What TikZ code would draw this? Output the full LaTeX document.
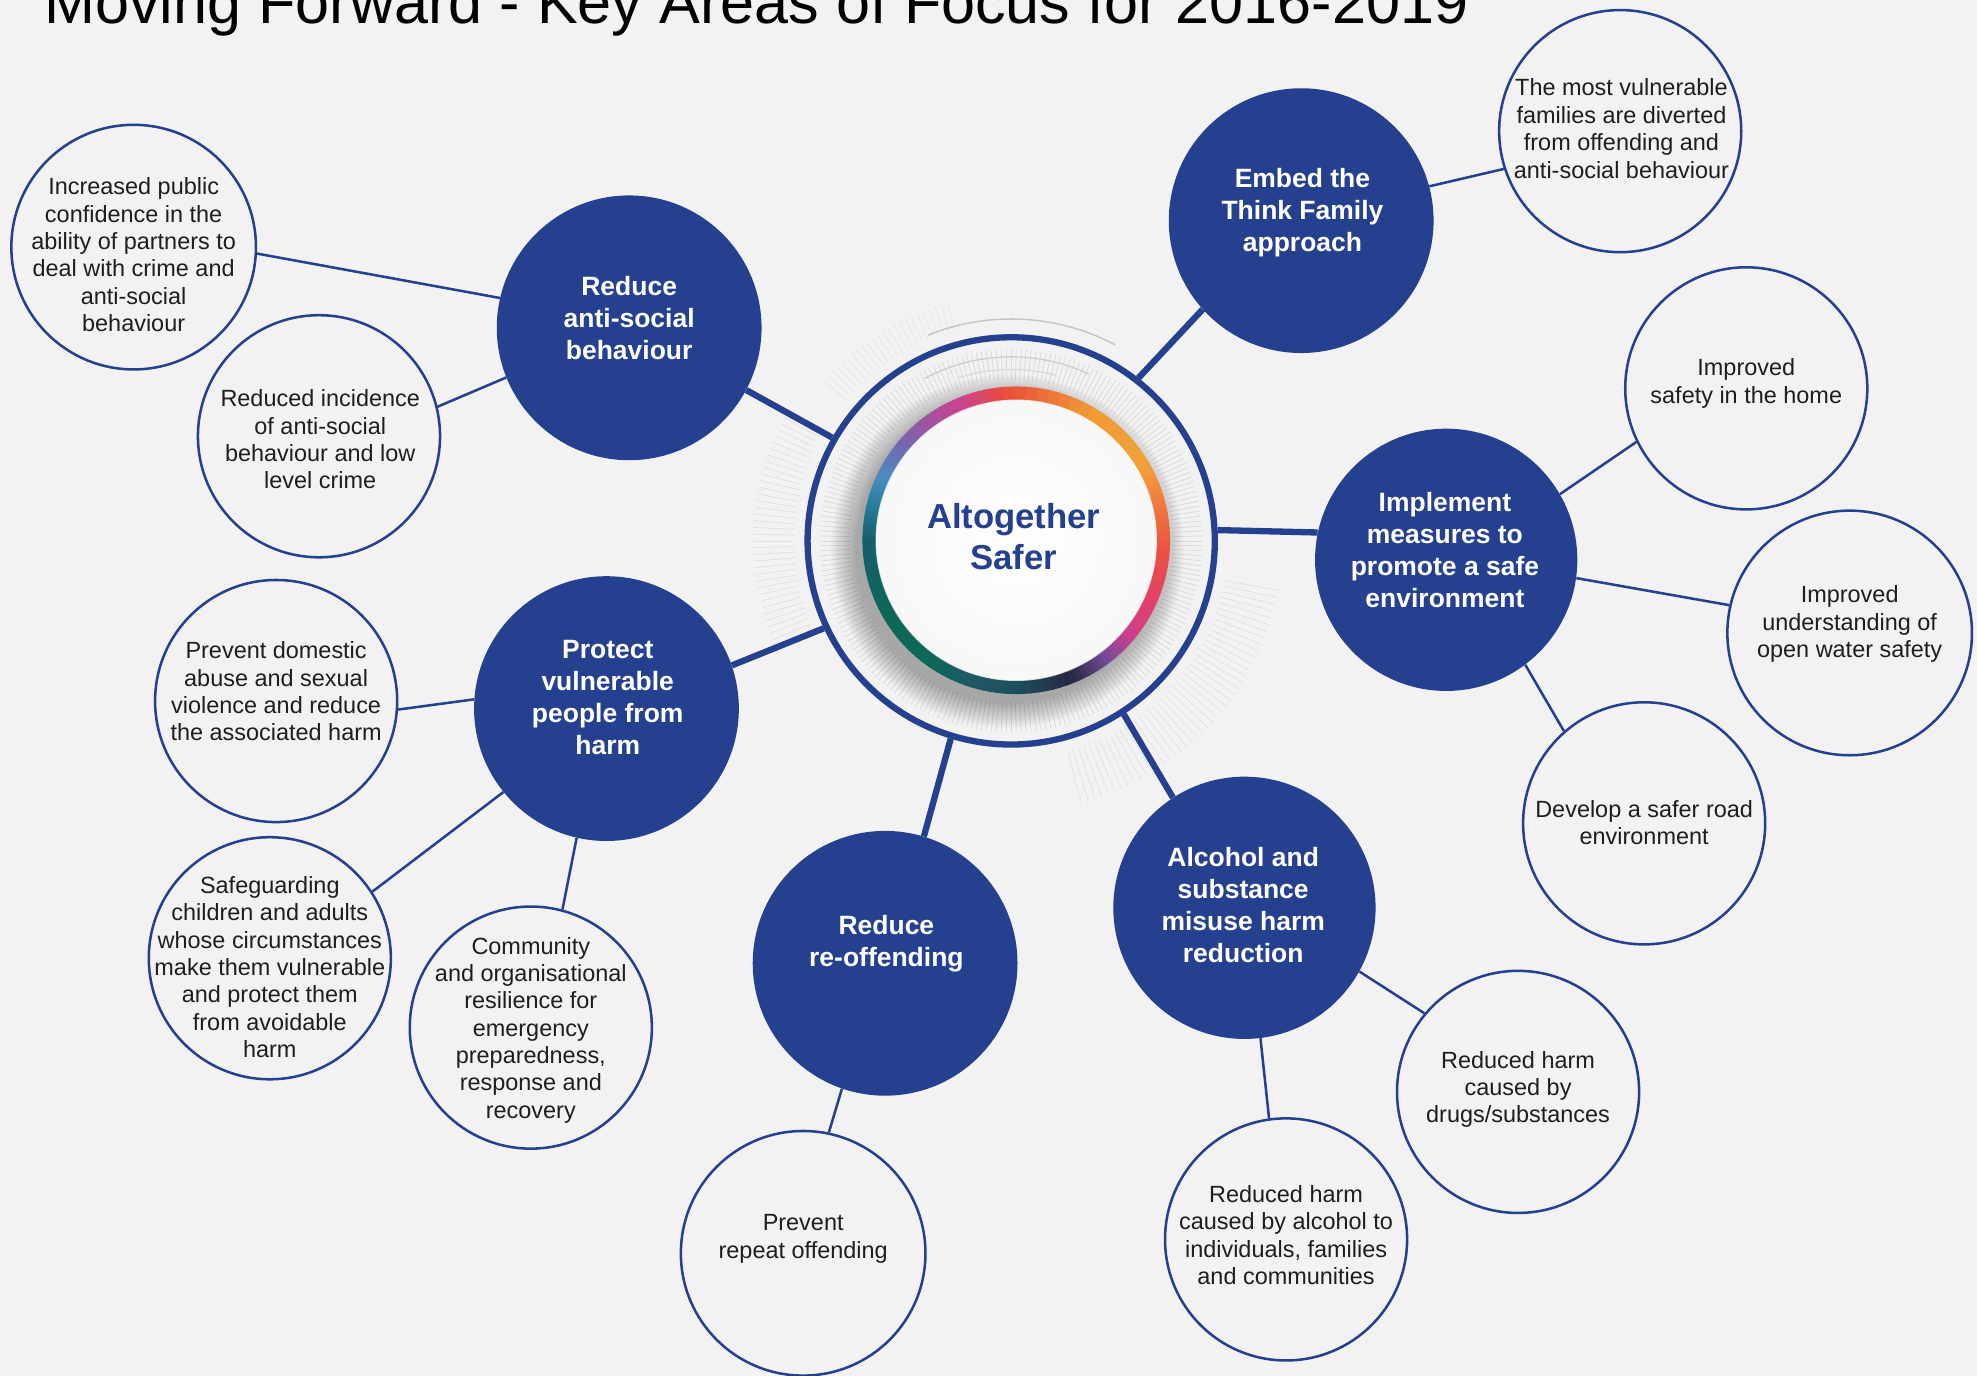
\documentclass[tikz,border=0pt]{standalone}
\usepackage{fontspec}
\setmainfont{Liberation Sans}
\definecolor{ablue}{HTML}{25408F}
\definecolor{bgc}{HTML}{F2F2F2}
\definecolor{txtc}{HTML}{1E1E1E}
\definecolor{g1}{HTML}{1D4E5C}
\definecolor{g2}{HTML}{272843}
\definecolor{g3}{HTML}{7A4A9A}
\definecolor{g4}{HTML}{CC3F8C}
\definecolor{g5}{HTML}{E2416A}
\definecolor{g6}{HTML}{EA5041}
\definecolor{g7}{HTML}{EF7040}
\definecolor{g8}{HTML}{F2A13A}
\definecolor{g9}{HTML}{F09A34}
\definecolor{g10}{HTML}{E84B3C}
\definecolor{g11}{HTML}{D1438A}
\definecolor{g12}{HTML}{A5509E}
\definecolor{g13}{HTML}{7367B0}
\definecolor{g14}{HTML}{4A8CC0}
\definecolor{g15}{HTML}{2A7FA0}
\definecolor{g16}{HTML}{155E6C}
\definecolor{g17}{HTML}{0E6859}
\definecolor{g18}{HTML}{1C5B66}
\newcommand\txtS{\fontsize{18.6}{21.7}\selectfont}
\newcommand\txtB{\fontsize{21}{25.4}\selectfont\bfseries}
\newcommand\txtC{\fontsize{27.5}{32.5}\selectfont\bfseries}
\newcommand\txtT{\fontsize{48.5}{58}\selectfont}
\tikzset{
  bigc/.style={circle, fill=ablue, minimum size=210pt, inner sep=0pt},
  btext/.style={text=white, font=\txtB, align=center, inner sep=0pt},
  smallc/.style={circle, draw=ablue, line width=2pt, minimum size=192pt, inner sep=0pt},
  stext/.style={text=txtc, font=\txtS, align=center, inner sep=0pt},
  thinc/.style={draw=ablue, line width=2pt},
  thickc/.style={draw=ablue, line width=5pt},
  tickc/.style={draw=black, line width=0.6pt},
}
\begin{document}
\begin{tikzpicture}[x=1pt,y=1pt]
\fill[bgc] (0,0) rectangle (1568,-1091);
\useasboundingbox (0,0) rectangle (1568,-1091);

% title
\node[anchor=base west, font=\txtT, text=black, inner sep=0pt] (title) at (35,-18.5) {Moving Forward - Key Areas of Focus for 2016-2019};

% ---- central decoration ----
\coordinate (cc) at (802,-429);
\coordinate (rc) at (806,-428.5);
% faint tick hatching inside the ring
\foreach \t in {0,1.5,...,358.5}
  \draw[tickc, opacity=0.10] ([shift={(\t:128)}]cc) -- ([shift={(\t:152)}]cc);
% faint tick hatching outside the ring
\foreach \t in {150,151.5,...,205}
  \draw[tickc, opacity=0.07] ([shift={(\t:172)}]cc) -- ([shift={(\t:205)}]cc);
\foreach \t in {-75,-73.5,...,-10}
  \draw[tickc, opacity=0.07] ([shift={(\t:172)}]cc) -- ([shift={(\t:215)}]cc);
\foreach \t in {105,106.5,...,140}
  \draw[tickc, opacity=0.05] ([shift={(\t:172)}]cc) -- ([shift={(\t:195)}]cc);
% thin gray arcs at the top
\draw[gray!45, line width=1.2pt] ([shift={(62:176)}]cc) arc[start angle=62, end angle=112, radius=176];
\draw[gray!40, line width=1pt] ([shift={(65:146)}]cc) arc[start angle=65, end angle=118, radius=146];
\draw[gray!30, line width=1pt] ([shift={(75:136)}]cc) arc[start angle=75, end angle=108, radius=136];
% soft shadow of the dial
\foreach \k in {1,...,14}
  \fill[black, opacity=0.022] (799,-437) circle (119+\k*1.5);
% white disc
\shade[inner color=white, outer color=gray!6] (rc) circle (112);
% coloured conic ring
\foreach \a/\ca/\b/\cb in {-90/g1/-68/g2, -68/g2/-52/g3, -52/g3/-40/g4, -40/g4/-25/g5,
  -25/g5/-5/g6, -5/g6/10/g7, 10/g7/30/g8, 30/g8/60/g9, 60/g9/95/g10, 95/g10/110/g11,
  110/g11/125/g12, 125/g12/140/g13, 140/g13/155/g14, 155/g14/165/g15, 165/g15/180/g16,
  180/g16/210/g17, 210/g17/235/g17, 235/g17/250/g18, 250/g18/270/g1} {
  \foreach \k in {0,...,7} {
    \pgfmathsetmacro\s{\a+(\b-\a)*\k/8}
    \pgfmathsetmacro\e{\a+(\b-\a)*(\k+1)/8+0.4}
    \pgfmathtruncatemacro\p{\k*12.5+6}
    \colorlet{segc}{\cb!\p!\ca}
    \draw[segc, line width=11pt] ([shift={(\s:116.5)}]rc) arc[start angle=\s, end angle=\e, radius=116.5];
  }
}
\draw[white, line width=1.2pt, opacity=0.8] (rc) circle (111);

% central ring
\node[circle, draw=ablue, line width=5pt, minimum size=323pt, inner sep=0pt] (core) at (cc) {};
\node[text=ablue, font=\txtC, align=center, inner sep=0pt] (ctext) at (804,-425.5) {Altogether\\Safer};

% ---- big circles ----
\node[bigc] (rasb)  at (499,-260) {};
\node[bigc] (embed) at (1032,-175) {};
\node[bigc, minimum size=208pt] (impl) at (1147,-444) {};
\node[bigc] (prot)  at (481,-562) {};
\node[bigc] (reoff) at (702,-764) {};
\node[bigc, minimum size=208pt] (alc) at (987,-720) {};

\node[btext] (rasbt)  at (499,-252)   {Reduce\\anti-social\\behaviour};
\node[btext] (embedt) at (1033,-168.5) {Embed the\\Think Family\\approach};
\node[btext] (implt)  at (1146,-436)  {Implement\\measures to\\promote a safe\\environment};
\node[btext] (prott)  at (482,-553)   {Protect\\vulnerable\\people from\\harm};
\node[btext] (reofft) at (703,-748.5) {Reduce\\re-offending};
\node[btext] (alct)   at (986,-718)   {Alcohol and\\substance\\misuse harm\\reduction};

% ---- small circles ----
\node[smallc, minimum size=194pt] (a) at (106,-196) {};
\node[smallc] (b) at (253,-346) {};
\node[smallc] (c) at (1285,-104) {};
\node[smallc] (d) at (1385,-308) {};
\node[smallc, minimum size=194pt] (e) at (1467,-502) {};
\node[smallc] (f) at (1304,-653) {};
\node[smallc] (g) at (219,-556) {};
\node[smallc] (h) at (214,-760) {};
\node[smallc] (i) at (421,-815) {};
\node[smallc, minimum size=194pt] (j) at (637,-994) {};
\node[smallc] (k) at (1020,-983) {};
\node[smallc] (l) at (1204,-866) {};

\node[stext] (at) at (106,-202) {Increased public\\confidence in the\\ability of partners to\\deal with crime and\\anti-social\\behaviour};
\node[stext] (bt) at (254,-348.5) {Reduced incidence\\of anti-social\\behaviour and low\\level crime};
\node[stext] (ct) at (1286,-102) {The most vulnerable\\families are diverted\\from offending and\\anti-social behaviour};
\node[stext] (dt) at (1385,-304) {Improved\\safety in the home};
\node[stext] (et) at (1467,-495) {Improved\\understanding of\\open water safety};
\node[stext] (ft) at (1304,-652.5) {Develop a safer road\\environment};
\node[stext] (gt) at (219,-548.5) {Prevent domestic\\abuse and sexual\\violence and reduce\\the associated harm};
\node[stext] (ht) at (214,-767) {Safeguarding\\children and adults\\whose circumstances\\make them vulnerable\\and protect them\\from avoidable\\harm};
\node[stext] (it) at (421,-817) {Community\\and organisational\\resilience for\\emergency\\preparedness,\\response and\\recovery};
\node[stext] (jt) at (637,-982.5) {Prevent\\repeat offending};
\node[stext] (kt) at (1020,-979.5) {Reduced harm\\caused by alcohol to\\individuals, families\\and communities};
\node[stext] (lt) at (1204,-864) {Reduced harm\\caused by\\drugs/substances};

% ---- connectors ----
\draw[thickc] (core.150) -- (rasb.-28.5);
\draw[thickc] (core.52) -- (embed.222);
\draw[thickc] (core.3) -- (impl.168);
\draw[thickc] (core.205) -- (prot.19.7);
\draw[thickc] (core.253) -- (reoff.73.6);
\draw[thickc] (core.-57.7) -- (alc.123);

\draw[thinc] (a.-3) -- (rasb.167);
\draw[thinc] (b.14) -- (rasb.202);
\draw[thinc] (c.198) -- (embed.15);
\draw[thinc] (d.206) -- (impl.30.5);
\draw[thinc] (e.167.7) -- (impl.-8.7);
\draw[thinc] (f.131) -- (impl.-53.8);
\draw[thinc] (g.-4.7) -- (prot.176);
\draw[thinc] (h.33.8) -- (prot.219);
\draw[thinc] (i.75.8) -- (prot.257);
\draw[thinc] (j.78) -- (reoff.251);
\draw[thinc] (k.98) -- (alc.277);
\draw[thinc] (l.140) -- (alc.-29);
\end{tikzpicture}
\end{document}
